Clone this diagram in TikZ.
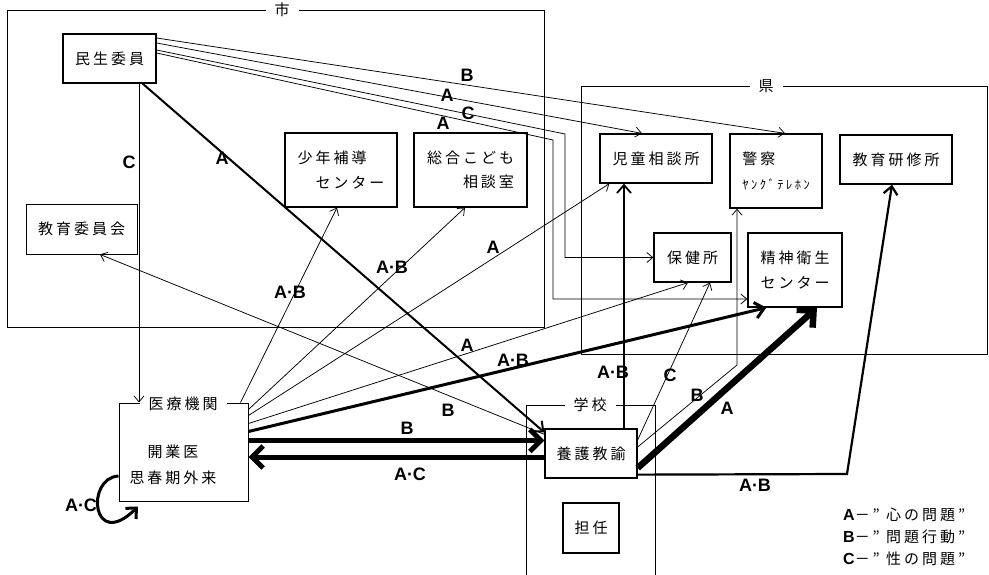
\documentclass[tikz,border=0pt]{standalone}
\usepackage{fontspec}
\newfontfamily\jp{Noto Sans CJK JP}[LetterSpace=20]
\newfontfamily\lat{Liberation Sans}
\usetikzlibrary{arrows.meta}

\begin{document}
\begin{tikzpicture}[x=1pt,y=-1pt,>={Straight Barb[length=6pt,width=10pt]},
  box/.style={draw,line width=1.3pt,inner sep=0pt,align=center,font=\jp\fontsize{15}{24.5}\selectfont},
  frame/.style={draw,line width=0.7pt},
  tag/.style={fill=white,inner xsep=9pt,inner ysep=2pt,font=\jp\fontsize{15}{18}\selectfont},
  lab/.style={inner sep=0pt,font=\lat\bfseries\fontsize{18}{18}\selectfont},
  thin/.style={->,line width=0.75pt},
  mid/.style={-{Straight Barb[length=8pt,width=14pt]},line width=2pt},
  heavy/.style={-{Straight Barb[length=11pt,width=22pt]},line width=5pt}]
\useasboundingbox[fill=white] (0,0) rectangle (989,575);

% frames
\draw[frame] (7,10) rectangle (544,327);
\node[tag] (shi) at (282,10) {市};
\draw[frame] (581,86) rectangle (987,354);
\node[tag] (ken) at (766,86) {県};
\draw[frame] (526,585) |- (655,405) -- (655,585);
\node[tag] (gakko) at (590,405) {学校};

% boxes
\node[box,minimum width=93,minimum height=49] (minsei) at (109.5,58.5) {民生委員};
\node[box,line width=0.9pt,minimum width=111,minimum height=50] (kyoiku) at (81.5,229) {教育委員会};
\node[box,minimum width=112,minimum height=74,align=left] (shonen) at (341,170) {少年補導\\\hspace*{1.2em}センター};
\node[box,minimum width=113,minimum height=74,align=right] (sogo) at (470.5,170) {総合こども\\相談室};
\node[box,minimum width=112,minimum height=49] (jido) at (656,158.5) {児童相談所};
\node[box,minimum width=92,minimum height=74,align=left] (police) at (776,171) {警察\\{\fontsize{12.5}{24.5}\selectfont ﾔﾝｸﾞﾃﾚﾎﾝ}};
\node[box,minimum width=112,minimum height=49] (kenshu) at (896,159.5) {教育研修所};
\node[box,minimum width=77,minimum height=49] (hoken) at (692.5,257.5) {保健所};
\node[box,minimum width=94,minimum height=74,align=left] (seishin) at (795,270) {精神衛生\\センター};
\node[box,line width=1pt,minimum width=129,minimum height=98] (clinic) at (183.5,452) {};
\node[tag,inner xsep=9pt] (iryo) at (183,404) {医療機関};
\node[align=center,inner sep=0pt,font=\jp\fontsize{15}{26}\selectfont] (kaigyo) at (173,465) {開業医\\思春期外来};
\node[box,minimum width=92,minimum height=49] (yogo) at (591,453.5) {養護教諭};
\node[box,minimum width=56,minimum height=50] (tannin) at (591,528) {担任};

% corners
\coordinate (c1) at (565,134);
\coordinate (c2) at (553,140);
\coordinate (c3) at (737,365);
\coordinate (c4) at (847,474);

% from minsei
\draw[thin] ([yshift=20.5pt]minsei.east) -- ([xshift=9pt]police.north);
\draw[thin] ([yshift=15.5pt]minsei.east) -- ([xshift=-14pt]jido.north);
\draw[thin] ([yshift=8.5pt]minsei.east) -- (c1) |- (hoken.west);
\draw[thin] ([yshift=5.5pt]minsei.east) -- (c2) |- ([yshift=-29pt]seishin.west);
\draw[thin] ([xshift=29.5pt]minsei.south) -- ([xshift=29.5pt]minsei.south |- clinic.north);
\draw[mid] ([xshift=-14pt]minsei.south east) -- ([yshift=-4pt]yogo.north west);

% from clinic
\draw[thin] ([xshift=-8pt]clinic.north east) -- ([xshift=-4pt]shonen.south);
\draw[thin] ([yshift=-7pt]clinic.north east) -- ([xshift=-5.5pt]sogo.south);
\draw[thin] ([yshift=-13pt]clinic.north east) -- ([xshift=10pt]jido.south west);
\draw[thin] ([yshift=-21pt]clinic.north east) -- ([xshift=-4.5pt]hoken.south);
\draw[-{Straight Barb[length=9pt,width=16pt]},line width=3pt] ([yshift=-29pt]clinic.north east) -- ([xshift=19pt]seishin.south west);
\draw[heavy] ([yshift=-38pt]clinic.north east) -- ([yshift=-38pt]clinic.north east -| yogo.west);
\draw[heavy] ([yshift=-3.5pt]yogo.west) -- ([yshift=-3.5pt]yogo.west -| clinic.east);
\draw[-{Straight Barb[length=8pt,width=15pt]},line width=3pt] ([yshift=-24pt]clinic.west) .. controls (85,478) and (92,552) .. ([xshift=-45.5pt,yshift=-5pt]clinic.south);

% from yogo
\draw[thin] ([yshift=-6pt]yogo.north west) -- ([xshift=18.5pt]kyoiku.south);
\draw[mid,line width=1.8pt] ([xshift=33pt]yogo.north) -- ([xshift=33pt]yogo.north |- jido.south);
\draw[thin] ([yshift=13.5pt]yogo.east) -- ([xshift=17.5pt]hoken.south);
\draw[thin] ([yshift=6.5pt]yogo.east) -- (c3) -- (c3 |- police.south);
\draw[-{Straight Barb[length=12pt,width=24pt]},line width=6.5pt] ([yshift=-14.5pt]yogo.east) -- ([xshift=22pt]seishin.south);
\draw[mid,line width=2.2pt] ([yshift=4pt]yogo.south east) -- (c4) -- ([xshift=-4pt]kenshu.south);

% letters
\node[lab] (tB1) at (467,75) {B};
\node[lab] (tA1) at (447,95) {A};
\node[lab] (tC1) at (468,113) {C};
\node[lab] (tA2) at (443,123) {A};
\node[lab] (tC2) at (129,162) {C};
\node[lab] (tA3) at (222,158) {A};
\node[lab] (tAB1) at (290,292) {A·B};
\node[lab] (tAB2) at (392,267) {A·B};
\node[lab] (tA4) at (493,247) {A};
\node[lab] (tA5) at (467,345) {A};
\node[lab] (tAB3) at (513,360) {A·B};
\node[lab] (tB2) at (448,410) {B};
\node[lab] (tB3) at (407,428) {B};
\node[lab] (tAC1) at (410,474) {A·C};
\node[lab] (tAC2) at (81,505) {A·C};
\node[lab] (tAB4) at (613,372) {A·B};
\node[lab] (tC3) at (670,375) {C};
\node[lab] (tB4) at (697,395) {B};
\node[lab] (tA6) at (727,408) {A};
\node[lab] (tAB5) at (755,485) {A·B};

% legend
\node[anchor=west,align=left,inner sep=0pt,font=\jp\fontsize{15}{22}\selectfont] (legend) at (843,537)
  {{\lat\bfseries\fontsize{16}{22}\selectfont A}－” 心の問題”\\{\lat\bfseries\fontsize{16}{22}\selectfont B}－” 問題行動”\\{\lat\bfseries\fontsize{16}{22}\selectfont C}－” 性の問題”};
\end{tikzpicture}
\end{document}
